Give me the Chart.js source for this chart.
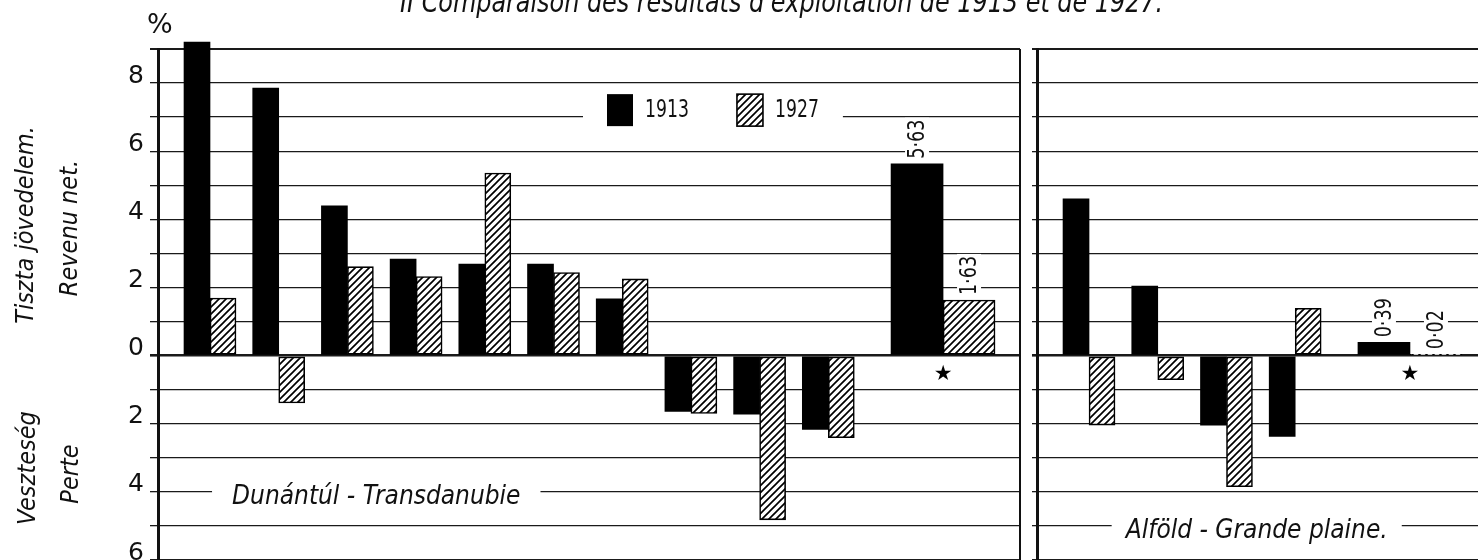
<!DOCTYPE html>
<html>
<head>
<meta charset="utf-8">
<script src="https://cdn.jsdelivr.net/npm/chart.js@4.4.1/dist/chart.umd.min.js"></script>
<style>
body { margin:0; background:#fff; width:1478px; height:560px; overflow:hidden; position:relative;
       font-family:"DejaVu Sans Condensed","DejaVu Sans",sans-serif; color:#111; }
canvas { position:absolute; top:0; }
#left { left:0; }
#right { left:1025px; }
.t { position:absolute; white-space:nowrap; font-style:italic; }
.rot { transform:rotate(-90deg); text-align:center; width:240px; height:30px; line-height:30px; font-size:25px; }
</style>
</head>
<body>
<canvas id="left" width="1030" height="560"></canvas>
<canvas id="right" width="453" height="560"></canvas>

<div class="t" style="left:400px; top:-13px; font-size:30px; line-height:30px; transform:scaleX(0.885); transform-origin:left center;">II Comparaison des résultats d'exploitation de 1913 et de 1927.</div>
<div class="t" style="left:147px; top:8px; font-size:27px; font-style:normal; font-family:'DejaVu Sans',sans-serif;">%</div>
<div class="t rot" style="left:-95px; top:210px;">Tiszta jövedelem.</div>
<div class="t rot" style="left:-51px; top:213px;">Revenu net.</div>
<div class="t rot" style="left:-93px; top:453px;">Veszteség</div>
<div class="t rot" style="left:-50px; top:459px;">Perte</div>

<script>
// Dunántúl (left panel): ten farms + average (★)
const leftGroups = [1, 2, 3, 4, 5, 6, 7, 8, 9, 10, '★'];
const left1913 = [9.2, 7.85, 4.4, 2.83, 2.69, 2.69, 1.67, -1.64, -1.72, -2.17, 5.63];
const left1927 = [1.69, -1.39, 2.61, 2.32, 5.36, 2.44, 2.25, -1.7, -4.82, -2.41, 1.63];

// Alföld (right panel): four farms + average (★)
const rightGroups = [1, 2, 3, 4, '★'];
const right1913 = [4.6, 2.04, -2.04, -2.37, 0.39];
const right1927 = [-2.04, -0.71, -3.85, 1.39, 0.02];

const seriesLabels = ['1913', '1927'];
const yLabelled = [-6, -4, -2, 0, 2, 4, 6, 8];

const COND = '"DejaVu Sans Condensed", "DejaVu Sans", sans-serif';
const AVG_GAP = 1.67;   // extra room before the average group
const BAR = 26;

function hatch() {
  const s = 7;
  const c = document.createElement('canvas');
  c.width = c.height = s;
  const g = c.getContext('2d');
  g.fillStyle = '#fff';
  g.fillRect(0, 0, s, s);
  g.strokeStyle = '#000';
  g.lineWidth = 1.7;
  g.beginPath();
  g.moveTo(0, s); g.lineTo(s, 0);
  g.moveTo(-1, 1); g.lineTo(1, -1);
  g.moveTo(s - 1, s + 1); g.lineTo(s + 1, s - 1);
  g.stroke();
  return g.createPattern(c, 'repeat');
}
const hatchFill = hatch();

function datasets(groups, v1913, v1927) {
  const last = groups.length - 1;
  const pos = i => i < last ? i : last - 1 + AVG_GAP;
  const pts = (vals, avg) => vals.map((v, i) => ({x: pos(i), y: v})).filter((p, i) => (i === last) === avg);
  const solid = {backgroundColor: '#000', borderWidth: 0, stack: 'a'};
  const striped = {backgroundColor: hatchFill, borderColor: '#000', borderWidth: 1.6, borderSkipped: false, stack: 'b'};
  return [
    {label: seriesLabels[0], data: pts(v1913, false), barThickness: BAR, ...solid},
    {label: seriesLabels[1], data: pts(v1927, false), barThickness: BAR, ...striped},
    {label: seriesLabels[0], data: pts(v1913, true), barThickness: BAR * 2, avg: true, ...solid},
    {label: seriesLabels[1], data: pts(v1927, true), barThickness: BAR * 2, avg: true, ...striped}
  ];
}

function whiteBox(ctx, x, y, w, h) {
  ctx.fillStyle = '#fff';
  ctx.fillRect(x, y, w, h);
}

// text squeezed horizontally, drawn at x,y
function squeezed(ctx, txt, x, y, sx) {
  ctx.save();
  ctx.translate(x, y);
  ctx.scale(sx, 1);
  ctx.fillText(txt, 0, 0);
  ctx.restore();
}

const annotate = {
  id: 'annotate',
  afterDatasetsDraw(chart, args, o) {
    const ctx = chart.ctx, xs = chart.scales.x, ys = chart.scales.y;
    ctx.save();
    ctx.textBaseline = 'middle';

    // panel name sitting on a grid line
    ctx.font = 'italic 26px ' + COND;
    const pw = ctx.measureText(o.panel.text).width;
    const px = xs.getPixelForValue(o.panel.x), py = ys.getPixelForValue(o.panel.y) + 5;
    whiteBox(ctx, px - pw / 2 - o.panel.pad, py - 10, pw + 2 * o.panel.pad, 20);
    ctx.fillStyle = '#111';
    ctx.textAlign = 'center';
    ctx.fillText(o.panel.text, px, py);

    // values written on the average bars, and the star under them
    chart.data.datasets.forEach((ds, di) => {
      if (!ds.avg) return;
      chart.getDatasetMeta(di).data.forEach((el, i) => {
        const v = ds.data[i].y;
        const txt = v.toFixed(2).replace('.', '·');
        ctx.font = '23px ' + COND;
        const w = ctx.measureText(txt).width * 0.85;
        const top = Math.min(el.y, el.base);
        ctx.save();
        ctx.translate(el.x, top - 5);
        ctx.rotate(-Math.PI / 2);
        whiteBox(ctx, -2, -12, w + 4, 24);
        ctx.fillStyle = '#111';
        ctx.textAlign = 'left';
        squeezed(ctx, txt, 0, 1, 0.85);
        ctx.restore();
      });
    });
    const last = o.groups.length - 1;
    ctx.font = '21px "DejaVu Sans", sans-serif';
    ctx.fillStyle = '#000';
    ctx.textAlign = 'center';
    ctx.fillText(o.groups[last], xs.getPixelForValue(last - 1 + AVG_GAP), ys.getPixelForValue(0) + 19);

    // legend placed on the 7 % line
    if (o.legend) {
      const cy = ys.getPixelForValue(7) - 7;
      ctx.font = '24px ' + COND;
      const items = chart.data.datasets.slice(0, 2);
      const widths = items.map(d => ctx.measureText(d.label).width * 0.8);
      let total = 48;
      widths.forEach(w => total += 26 + 12 + w);
      whiteBox(ctx, o.legend.x - 24, cy - 11, total + 48, 22);
      let lx = o.legend.x;
      items.forEach((d, k) => {
        ctx.fillStyle = d.backgroundColor;
        ctx.fillRect(lx, cy - 16, 26, 32);
        if (d.borderWidth) {
          ctx.strokeStyle = '#000';
          ctx.lineWidth = 1.6;
          ctx.strokeRect(lx, cy - 16, 26, 32);
        }
        ctx.fillStyle = '#111';
        ctx.textAlign = 'left';
        squeezed(ctx, d.label, lx + 38, cy + 1, 0.8);
        lx += 26 + 12 + widths[k] + 48;
      });
    }

    // panel edge
    if (o.rightEdge) {
      ctx.strokeStyle = '#111';
      ctx.lineWidth = 2;
      ctx.beginPath();
      ctx.moveTo(chart.chartArea.right, chart.chartArea.top);
      ctx.lineTo(chart.chartArea.right, chart.chartArea.bottom);
      ctx.stroke();
    }
    ctx.restore();
  }
};

function yScale(width, showLabels, tickLength) {
  return {
    min: -6, max: 9,
    afterFit(s) { s.width = width; s.paddingTop = 0; s.paddingBottom = 0; },
    ticks: {
      display: showLabels,
      stepSize: 1,
      autoSkip: false,
      padding: 6,
      labelOffset: -7,
      color: '#111',
      font: {family: '"DejaVu Sans", sans-serif', size: 25},
      callback: v => yLabelled.includes(v) ? String(Math.abs(v)) : ''
    },
    grid: {
      color: '#1a1a1a',
      tickLength: tickLength,
      lineWidth: c => c.tick && c.tick.value === 0 ? 2.6 : (c.tick && c.tick.value === 9 ? 2 : 1.3)
    },
    border: {display: true, color: '#111', width: 3}
  };
}

function makeChart(id, groups, v1913, v1927, xmax, axisWidth, showLabels, extra) {
  return new Chart(document.getElementById(id), {
    type: 'bar',
    data: {datasets: datasets(groups, v1913, v1927)},
    options: {
      responsive: false,
      animation: false,
      layout: {padding: {top: 49, right: extra.padRight, bottom: 0, left: 0}},
      datasets: {bar: {clip: false}},
      plugins: {
        legend: {display: false},
        tooltip: {enabled: false},
        annotate: {groups: groups, ...extra}
      },
      scales: {
        x: {type: 'linear', display: false, offset: false, min: -0.757, max: xmax},
        y: yScale(axisWidth, showLabels, showLabels ? 8 : 5)
      }
    },
    plugins: [annotate]
  });
}

makeChart('left', leftGroups, left1913, left1927, 11.79, 158, true, {
  padRight: 10,
  rightEdge: true,
  panel: {text: 'Dunántúl - Transdanubie', x: 2.42, y: -4, pad: 20},
  legend: {x: 607}
});

makeChart('right', rightGroups, right1913, right1927, 5.66, 12, false, {
  padRight: 0,
  rightEdge: false,
  panel: {text: 'Alföld - Grande plaine.', x: 2.44, y: -5, pad: 14}
});
</script>
</body>
</html>
